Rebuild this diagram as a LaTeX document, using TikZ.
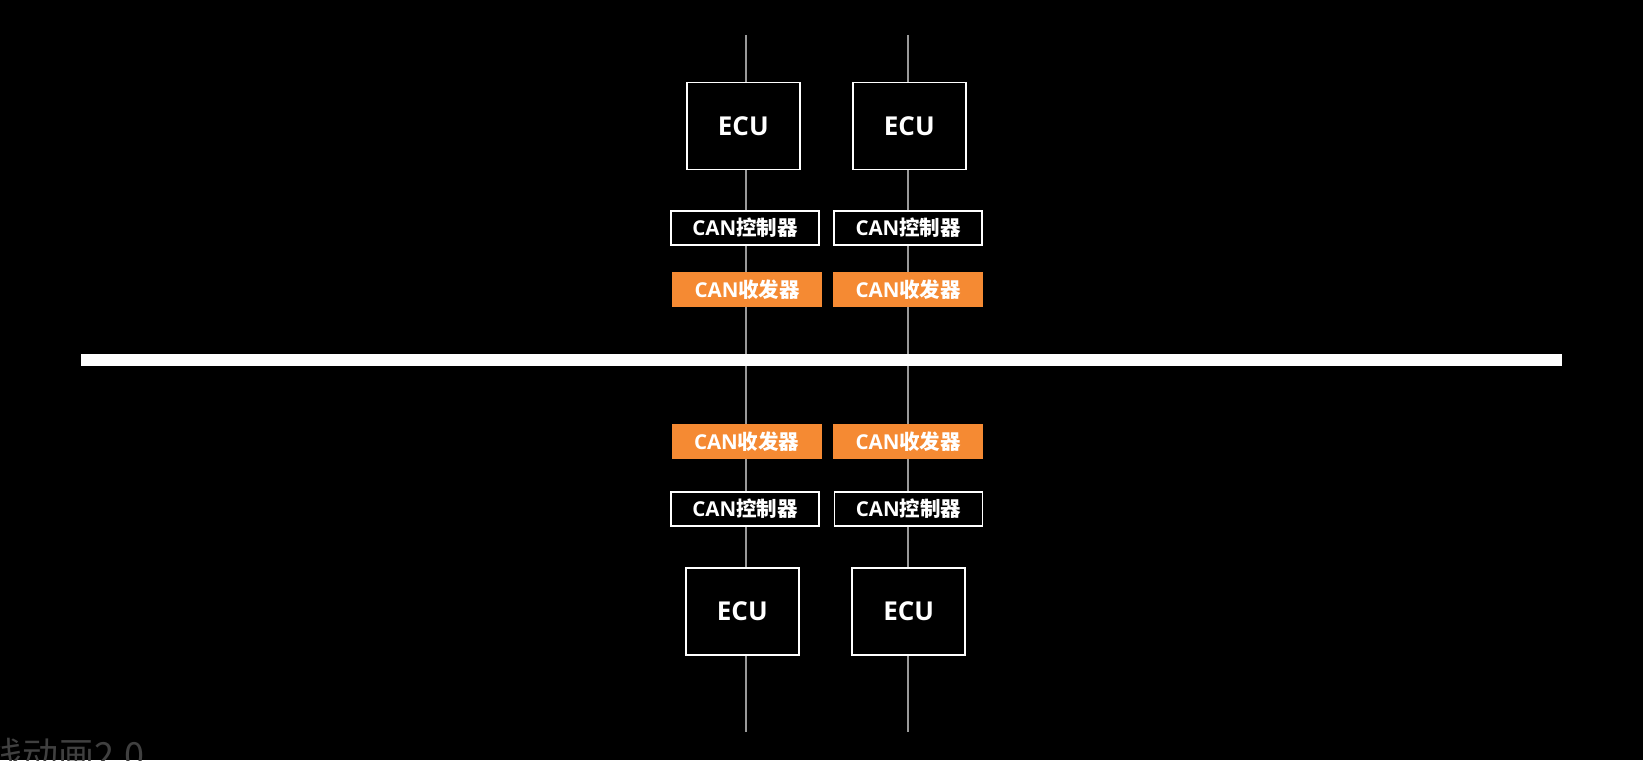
\documentclass[tikz,border=0pt]{standalone}
\usepackage{fontspec}
\setmainfont{Open Sans}
\newfontfamily\cjk{Noto Sans CJK SC}
\definecolor{canorange}{HTML}{F58A33}
\definecolor{wiregrey}{HTML}{9A9A9A}
\definecolor{wmgrey}{HTML}{404040}
\begin{document}
\begin{tikzpicture}[x=1pt,y=-1pt,
  ecubox/.style={draw=white, line width=1.5pt, fill=black, minimum width=113pt, minimum height=87pt, inner sep=0pt, text=white, font=\bfseries\fontsize{26}{30}\selectfont},
  ctlbox/.style={draw=white, line width=1.5pt, fill=black, minimum width=148pt, minimum height=34pt, inner sep=0pt, text=white, font=\bfseries\fontsize{20.5}{24}\selectfont},
  trxbox/.style={fill=canorange, minimum width=150pt, minimum height=35.6pt, inner sep=0pt, text=white, font=\bfseries\fontsize{20.5}{24}\selectfont},
  wire/.style={draw=wiregrey, line width=1.5pt},
  busbar/.style={fill=white, minimum width=1481pt, minimum height=11.5pt, inner sep=0pt},
  wmark/.style={text=wmgrey, font=\cjk\fontsize{36}{40}\selectfont, inner sep=0pt, anchor=base west}]
\fill[black] (0,0) rectangle (1643,760);
\useasboundingbox (0,0) rectangle (1643,760);
% wire end points
\coordinate (t1) at (746,35);
\coordinate (b1) at (746,732);
\coordinate (t2) at (908,35);
\coordinate (b2) at (908,732);
\draw[wire] (t1) -- (b1);
\draw[wire] (t2) -- (b2);
% bus
\node[busbar] (bus) at (821.5,360) {};
% upper nodes
\node[ecubox] (ecuA) at (743.3,125.8) {ECU};
\node[ecubox] (ecuB) at (909.3,125.8) {ECU};
\node[ctlbox] (ctlA) at (745,228) {CAN{\cjk 控制器}};
\node[ctlbox] (ctlB) at (908.2,228) {CAN{\cjk 控制器}};
\node[trxbox] (trxA) at (747.3,289.5) {CAN{\cjk 收发器}};
\node[trxbox] (trxB) at (908.3,289.5) {CAN{\cjk 收发器}};
% lower nodes
\node[trxbox] (trxC) at (746.7,441.5) {CAN{\cjk 收发器}};
\node[trxbox] (trxD) at (908.3,441.5) {CAN{\cjk 收发器}};
\node[ctlbox] (ctlC) at (745,508.8) {CAN{\cjk 控制器}};
\node[ctlbox] (ctlD) at (908.5,508.8) {CAN{\cjk 控制器}};
\node[ecubox] (ecuC) at (742.3,611.5) {ECU};
\node[ecubox] (ecuD) at (908.7,611.5) {ECU};
% watermark
\node[wmark] (wm) at (-14,768) {线动画2.0};
\end{tikzpicture}
\end{document}
